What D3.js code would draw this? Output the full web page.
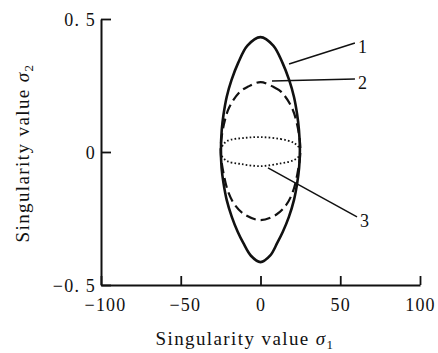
<!DOCTYPE html>
<html>
<head>
<meta charset="utf-8">
<script src="https://cdn.jsdelivr.net/npm/d3@7"></script>
<style>
  html, body { margin: 0; padding: 0; background: #fff; }
  svg { display: block; }
  text { font-family: "Liberation Serif", "DejaVu Serif", serif; fill: #111; }
</style>
</head>
<body>
<svg id="chart" width="438" height="353"></svg>
<script>
// Singular-value loci (sigma1, sigma2) for the three cases, traced clockwise from the top
const loop1 = [[0, 0.432], [8, 0.40], [13.8, 0.335], [18, 0.27], [21, 0.207], [23, 0.14],
  [24.1, 0.083], [24.7, 0.008], [24.2, -0.06], [23, -0.117], [21, -0.18], [17.8, -0.244],
  [14, -0.30], [10.5, -0.342], [6, -0.39], [0, -0.414],
  [-6, -0.39], [-10.8, -0.342], [-14.3, -0.30], [-18, -0.244], [-21.2, -0.18], [-23.2, -0.117],
  [-24.4, -0.06], [-24.8, 0.008], [-24.3, 0.083], [-23.2, 0.14], [-21.2, 0.207], [-18.2, 0.27],
  [-14, 0.335], [-8.2, 0.40]];
const loop2 = [[0, 0.263], [8, 0.245], [13, 0.226], [19.5, 0.169], [23, 0.102], [25, 0.008],
  [23, -0.086], [20, -0.154], [16, -0.2], [10, -0.235], [0, -0.256],
  [-10, -0.235], [-16, -0.2], [-20, -0.154], [-23, -0.086], [-25, 0.008], [-23, 0.102],
  [-19.5, 0.169], [-13, 0.226], [-8, 0.245]];
const loop3 = [[0, 0.056], [12.5, 0.049], [21, 0.034], [24.5, 0.012], [24.5, -0.012],
  [21, -0.03], [12.5, -0.043], [0, -0.053], [-12.5, -0.045], [-21, -0.034], [-24.5, -0.012],
  [-24.5, 0.015], [-21, 0.041], [-10, 0.053]];

// Curve numbers and their leader lines (data coordinates)
const curveLabels = ["1", "2", "3"];
const leaderFrom = [[17.9, 0.331], [7.2, 0.267], [4.7, -0.06]];
const leaderTo = [[59.2, 0.41], [59.2, 0.274], [60.5, -0.244]];

// Axis ticks
const xTicks = [-100, -50, 0, 50, 100];
const xTickLabels = ["\u2212100", "\u221250", "0", "50", "100"];
const yTicks = [-0.5, 0, 0.5];
const yTickLabels = ["\u22120. 5", "0", "0. 5"];

const svg = d3.select("#chart");
const x = d3.scaleLinear().domain([-100, 100]).range([101, 420]);
const y = d3.scaleLinear().domain([-0.5, 0.5]).range([285, 19]);

// Axes with inward ticks
const xAxis = d3.axisBottom(x)
  .tickValues(xTicks)
  .tickFormat((d, i) => xTickLabels[i])
  .tickSizeInner(-9).tickSizeOuter(0).tickPadding(13);
const yAxis = d3.axisLeft(y)
  .tickValues(yTicks)
  .tickFormat((d, i) => yTickLabels[i])
  .tickSizeInner(-10).tickSizeOuter(0).tickPadding(5);

const gx = svg.append("g").attr("transform", `translate(0,${y(-0.5)})`).call(xAxis);
const gy = svg.append("g").attr("transform", `translate(${x(-100)},0)`).call(yAxis);

[gx, gy].forEach(g => {
  g.select(".domain").attr("stroke", "#111").attr("stroke-width", 2);
  g.selectAll(".tick line").attr("stroke", "#111").attr("stroke-width", 1.8);
  g.selectAll(".tick text")
    .attr("fill", "#111")
    .style("font-family", '"Liberation Serif", serif')
    .style("font-size", "18px")
    .style("letter-spacing", "1.2px");
});
gx.selectAll(".tick text").attr("dx", (d) => d < 0 ? 4 : 0);
gy.selectAll(".tick text").attr("dy", "0.36em");

// Loci
const line = d3.line()
  .x(d => x(d[0]))
  .y(d => y(d[1]))
  .curve(d3.curveCatmullRomClosed.alpha(0.5));

svg.append("path").datum(loop3)
  .attr("d", line).attr("fill", "none")
  .attr("stroke", "#111").attr("stroke-width", 1.8)
  .attr("stroke-dasharray", "1.6,2.2");

svg.append("path").datum(loop2)
  .attr("d", line).attr("fill", "none")
  .attr("stroke", "#111").attr("stroke-width", 2.2)
  .attr("stroke-dasharray", "10,5");

svg.append("path").datum(loop1)
  .attr("d", line).attr("fill", "none")
  .attr("stroke", "#111").attr("stroke-width", 2.6);

// Leader lines and curve numbers
curveLabels.forEach((lab, i) => {
  svg.append("line")
    .attr("x1", x(leaderFrom[i][0])).attr("y1", y(leaderFrom[i][1]))
    .attr("x2", x(leaderTo[i][0])).attr("y2", y(leaderTo[i][1]))
    .attr("stroke", "#111").attr("stroke-width", 1.5);
  svg.append("text")
    .attr("x", x(leaderTo[i][0]) + 3)
    .attr("y", y(leaderTo[i][1]) + 10)
    .style("font-size", "18px")
    .text(lab);
});

// Axis titles
const xt = svg.append("text")
  .attr("x", 245).attr("y", 345)
  .attr("text-anchor", "middle")
  .style("font-size", "19px")
  .style("letter-spacing", "1.4px");
xt.append("tspan").text("Singularity value ");
xt.append("tspan").style("font-style", "italic").text("\u03c3");
xt.append("tspan").attr("dy", 4).style("font-size", "13px").text("1");

const yt = svg.append("text")
  .attr("transform", "translate(29,153) rotate(-90)")
  .attr("text-anchor", "middle")
  .style("font-size", "19px")
  .style("letter-spacing", "1.4px");
yt.append("tspan").text("Singularity value ");
yt.append("tspan").style("font-style", "italic").text("\u03c3");
yt.append("tspan").attr("dy", 4).style("font-size", "13px").text("2");
</script>
</body>
</html>
